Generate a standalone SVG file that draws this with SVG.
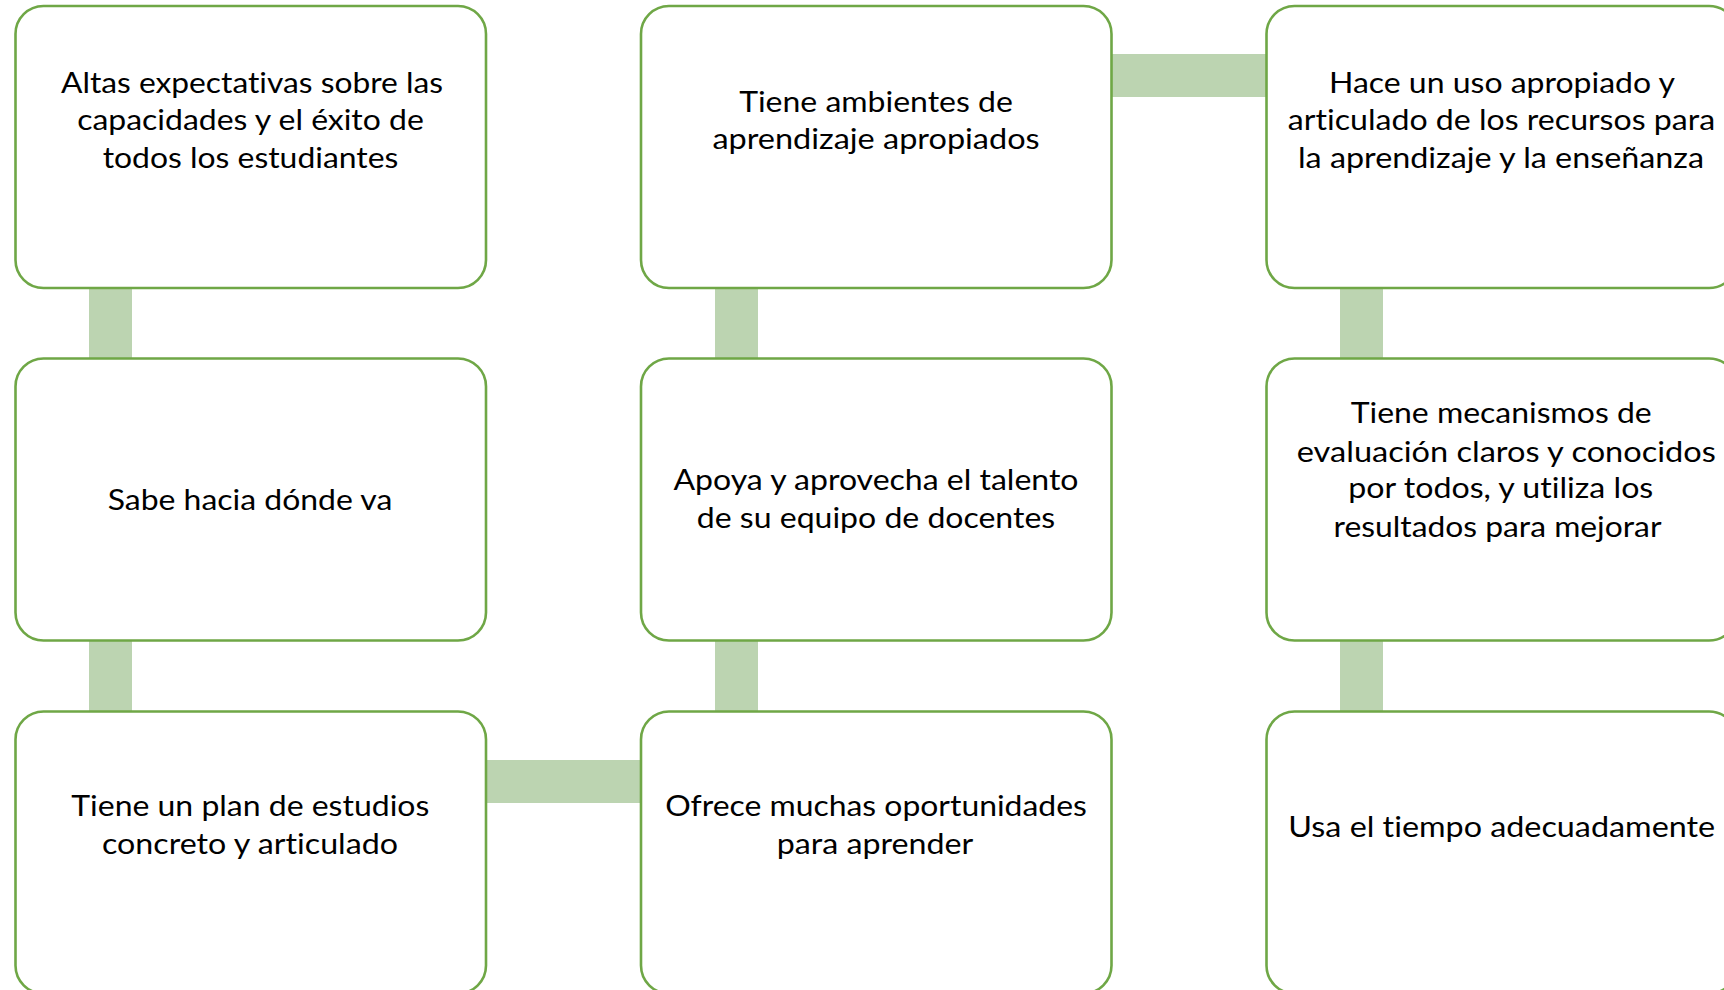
<svg xmlns="http://www.w3.org/2000/svg" width="1724" height="990" viewBox="0 0 1724 990">
<style>
.box{fill:#FFFFFF;stroke:#6FA746;stroke-width:2.6}
.con{fill:#BCD4B1;stroke:none}
text{font-family:Lato,"Open Sans","Liberation Sans",sans-serif;font-size:29px;fill:#000000;text-anchor:middle;font-variant-ligatures:none;font-feature-settings:"liga" 0}
</style>
<rect width="1724" height="990" fill="#FFFFFF"/>
<g id="connectors">
<rect class="con" x="89" y="285" width="43" height="77"/>
<rect class="con" x="89" y="638" width="43" height="77"/>
<rect class="con" x="715" y="285" width="43" height="77"/>
<rect class="con" x="715" y="638" width="43" height="77"/>
<rect class="con" x="1340" y="285" width="43" height="77"/>
<rect class="con" x="1340" y="638" width="43" height="77"/>
<rect class="con" x="1108" y="54" width="162" height="43"/>
<rect class="con" x="482" y="760" width="162" height="43"/>
</g>
<g id="n1">
<rect class="box" x="15.5" y="6" width="470.5" height="282" rx="28"/>
<text x="252" y="92.5" textLength="382" lengthAdjust="spacingAndGlyphs">Altas expectativas sobre las</text>
<text x="250.5" y="130" textLength="346.6" lengthAdjust="spacingAndGlyphs">capacidades y el éxito de</text>
<text x="250.5" y="167.7" textLength="295.6" lengthAdjust="spacingAndGlyphs">todos los estudiantes</text>
</g>
<g id="n2">
<rect class="box" x="641" y="6" width="470.5" height="282" rx="28"/>
<text x="876" y="111.7" textLength="273.7" lengthAdjust="spacingAndGlyphs">Tiene ambientes de</text>
<text x="876" y="149" textLength="327.2" lengthAdjust="spacingAndGlyphs">aprendizaje apropiados</text>
</g>
<g id="n3">
<rect class="box" x="1266.5" y="6" width="470.5" height="282" rx="28"/>
<text x="1502" y="92.5" textLength="346" lengthAdjust="spacingAndGlyphs">Hace un uso apropiado y</text>
<text x="1501.5" y="130" textLength="427.3" lengthAdjust="spacingAndGlyphs">articulado de los recursos para</text>
<text x="1501" y="167.7" textLength="406" lengthAdjust="spacingAndGlyphs">la aprendizaje y la enseñanza</text>
</g>
<g id="n4">
<rect class="box" x="15.5" y="358.5" width="470.5" height="282" rx="28"/>
<text x="250" y="510" textLength="284.6" lengthAdjust="spacingAndGlyphs">Sabe hacia dónde va</text>
</g>
<g id="n5">
<rect class="box" x="641" y="358.5" width="470.5" height="282" rx="28"/>
<text x="876" y="490" textLength="405" lengthAdjust="spacingAndGlyphs">Apoya y aprovecha el talento</text>
<text x="876" y="528.3" textLength="358.3" lengthAdjust="spacingAndGlyphs">de su equipo de docentes</text>
</g>
<g id="n6">
<rect class="box" x="1266.5" y="358.5" width="470.5" height="282" rx="28"/>
<text x="1501.2" y="423.3" textLength="301" lengthAdjust="spacingAndGlyphs">Tiene mecanismos de</text>
<text x="1506.3" y="461.7" textLength="419" lengthAdjust="spacingAndGlyphs">evaluación claros y conocidos</text>
<text x="1500.8" y="498.3" textLength="305" lengthAdjust="spacingAndGlyphs">por todos, y utiliza los</text>
<text x="1497.5" y="536.7" textLength="328" lengthAdjust="spacingAndGlyphs">resultados para mejorar</text>
</g>
<g id="n7">
<rect class="box" x="15.5" y="711.5" width="470.5" height="282" rx="28"/>
<text x="250.3" y="816" textLength="358" lengthAdjust="spacingAndGlyphs">Tiene un plan de estudios</text>
<text x="250" y="854" textLength="296" lengthAdjust="spacingAndGlyphs">concreto y articulado</text>
</g>
<g id="n8">
<rect class="box" x="641" y="711.5" width="470.5" height="282" rx="28"/>
<text x="876" y="816" textLength="421.7" lengthAdjust="spacingAndGlyphs">Ofrece muchas oportunidades</text>
<text x="875" y="854" textLength="196.6" lengthAdjust="spacingAndGlyphs">para aprender</text>
</g>
<g id="n9">
<rect class="box" x="1266.5" y="711.5" width="470.5" height="282" rx="28"/>
<text x="1501.7" y="836.7" textLength="426.7" lengthAdjust="spacingAndGlyphs">Usa el tiempo adecuadamente</text>
</g>
</svg>
